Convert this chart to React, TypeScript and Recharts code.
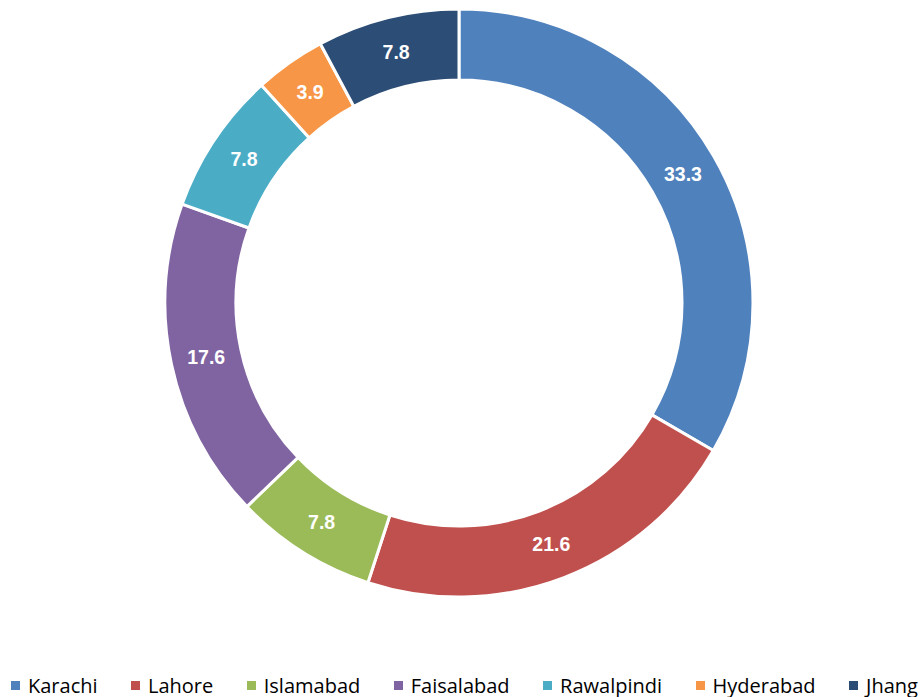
import React from 'react';
import { PieChart, Pie, Cell, Legend } from 'recharts';

const cities = ['Karachi', 'Lahore', 'Islamabad', 'Faisalabad', 'Rawalpindi', 'Hyderabad', 'Jhang'];
const shares = [33.3, 21.6, 7.8, 17.6, 7.8, 3.9, 7.8];
const colors = ['#4F81BD', '#C0504D', '#9BBB59', '#8064A2', '#4BACC6', '#F79646', '#2C4D75'];

const data = cities.map((name, i) => ({ name, value: shares[i] }));

const RADIAN = Math.PI / 180;

const renderLabel = (props: any) => {
  const { cx, cy, midAngle, innerRadius, outerRadius, value } = props;
  const r = (innerRadius + outerRadius) / 2;
  const x = cx + r * Math.cos(-midAngle * RADIAN);
  const y = cy + r * Math.sin(-midAngle * RADIAN);
  return (
    <text
      x={x}
      y={y}
      fill="#fff"
      textAnchor="middle"
      dominantBaseline="central"
      fontFamily="'Liberation Sans', Arial, sans-serif"
      fontWeight="bold"
      fontSize={19.5}
    >
      {value.toFixed(1)}
    </text>
  );
};

const renderLegend = () => (
  <div
    style={{
      display: 'flex',
      alignItems: 'center',
      justifyContent: 'space-between',
      boxSizing: 'border-box',
      width: 918,
      height: 30,
      paddingLeft: 11,
      whiteSpace: 'nowrap',
      fontFamily: "'Open Sans', sans-serif",
      fontSize: 20,
      color: '#000',
    }}
  >
    {cities.map((c, i) => (
      <span key={c} style={{ display: 'flex', alignItems: 'center' }}>
        <span style={{ width: 9, height: 9, background: colors[i], marginRight: 8, display: 'inline-block' }} />
        {c}
      </span>
    ))}
  </div>
);

export default function App() {
  return (
    <div style={{ position: 'absolute', left: 0, top: 0, width: 922, height: 697, background: '#fff' }}>
      <PieChart width={922} height={697} margin={{ top: 0, right: 0, bottom: 0, left: 0 }}>
        <Pie
          data={data}
          dataKey="value"
          nameKey="name"
          cx={459}
          cy={303}
          outerRadius={294}
          innerRadius={223}
          startAngle={90}
          endAngle={-270}
          stroke="#fff"
          strokeWidth={3}
          label={renderLabel}
          labelLine={false}
          isAnimationActive={false}
        >
          {data.map((d, i) => (
            <Cell key={d.name} fill={colors[i]} />
          ))}
        </Pie>
        <Legend
          content={renderLegend}
          wrapperStyle={{ position: 'absolute', left: 0, top: 670, width: 922, height: 30 }}
        />
      </PieChart>
    </div>
  );
}
